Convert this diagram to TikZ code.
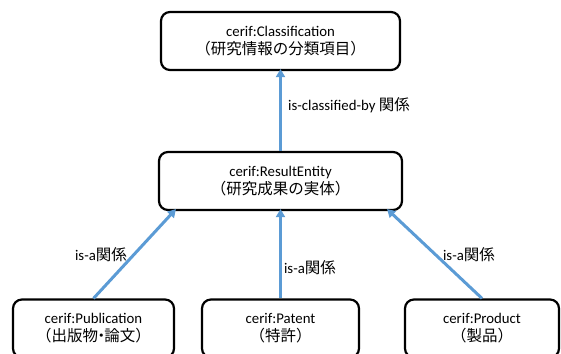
\documentclass[tikz,border=0pt]{standalone}
\usepackage{fontspec}
\setmainfont{Carlito}
\newfontfamily\jpf{Noto Sans CJK JP}
\newcommand\jp{\jpf\fontsize{15.5}{18}\selectfont}
\usetikzlibrary{arrows.meta}
\definecolor{arrblue}{HTML}{5B9BD5}
\begin{document}
\begin{tikzpicture}[x=1pt,y=-1pt,
  box/.style={draw=black, line width=2.2pt, rounded corners=9pt, align=center,
    inner sep=0pt, font=\fontsize{14.8}{18}\selectfont},
  rel/.style={draw=arrblue, line width=3pt, -{Triangle[length=8pt,width=9pt]}},
  lbl/.style={font=\fontsize{14.8}{18}\selectfont, inner sep=0pt}]
\useasboundingbox (0,0) rectangle (561,353);
\clip (0,0) rectangle (561,353);
\node[box, minimum width=239pt, minimum height=58pt] (cls) at (280.5,41)
  {cerif:Classification\\{\jp （研究情報の分類項目）}};
\node[box, minimum width=243pt, minimum height=58pt] (res) at (280.5,181)
  {cerif:ResultEntity\\{\jp （研究成果の実体）}};
\node[box, minimum width=161pt, minimum height=58pt] (pub) at (93.5,328.5)
  {cerif:Publication\\{\jp （出版物\kern-0.3em・\kern-0.3em 論文）}};
\node[box, minimum width=157pt, minimum height=58pt] (pat) at (280.5,328.5)
  {cerif:Patent\\{\jp （特許）}};
\node[box, minimum width=154pt, minimum height=58pt] (prd) at (482,328.5)
  {cerif:Product\\{\jp （製品）}};
\draw[rel] (res.north) -- ([yshift=2pt]cls.south);
\draw[rel] (pub.north) -- ([xshift=18pt,yshift=2pt]res.south west);
\draw[rel] (pat.north) -- ([yshift=2pt]res.south);
\draw[rel] (prd.north) -- ([xshift=-16pt,yshift=2pt]res.south east);
\node[lbl, anchor=west] (l0) at (288,105) {is-classified-by {\jp 関係}};
\node[lbl] (l1) at (101,255) {is-a{\jp 関係}};
\node[lbl] (l2) at (310,268) {is-a{\jp 関係}};
\node[lbl] (l3) at (469,255) {is-a{\jp 関係}};
\end{tikzpicture}
\end{document}
